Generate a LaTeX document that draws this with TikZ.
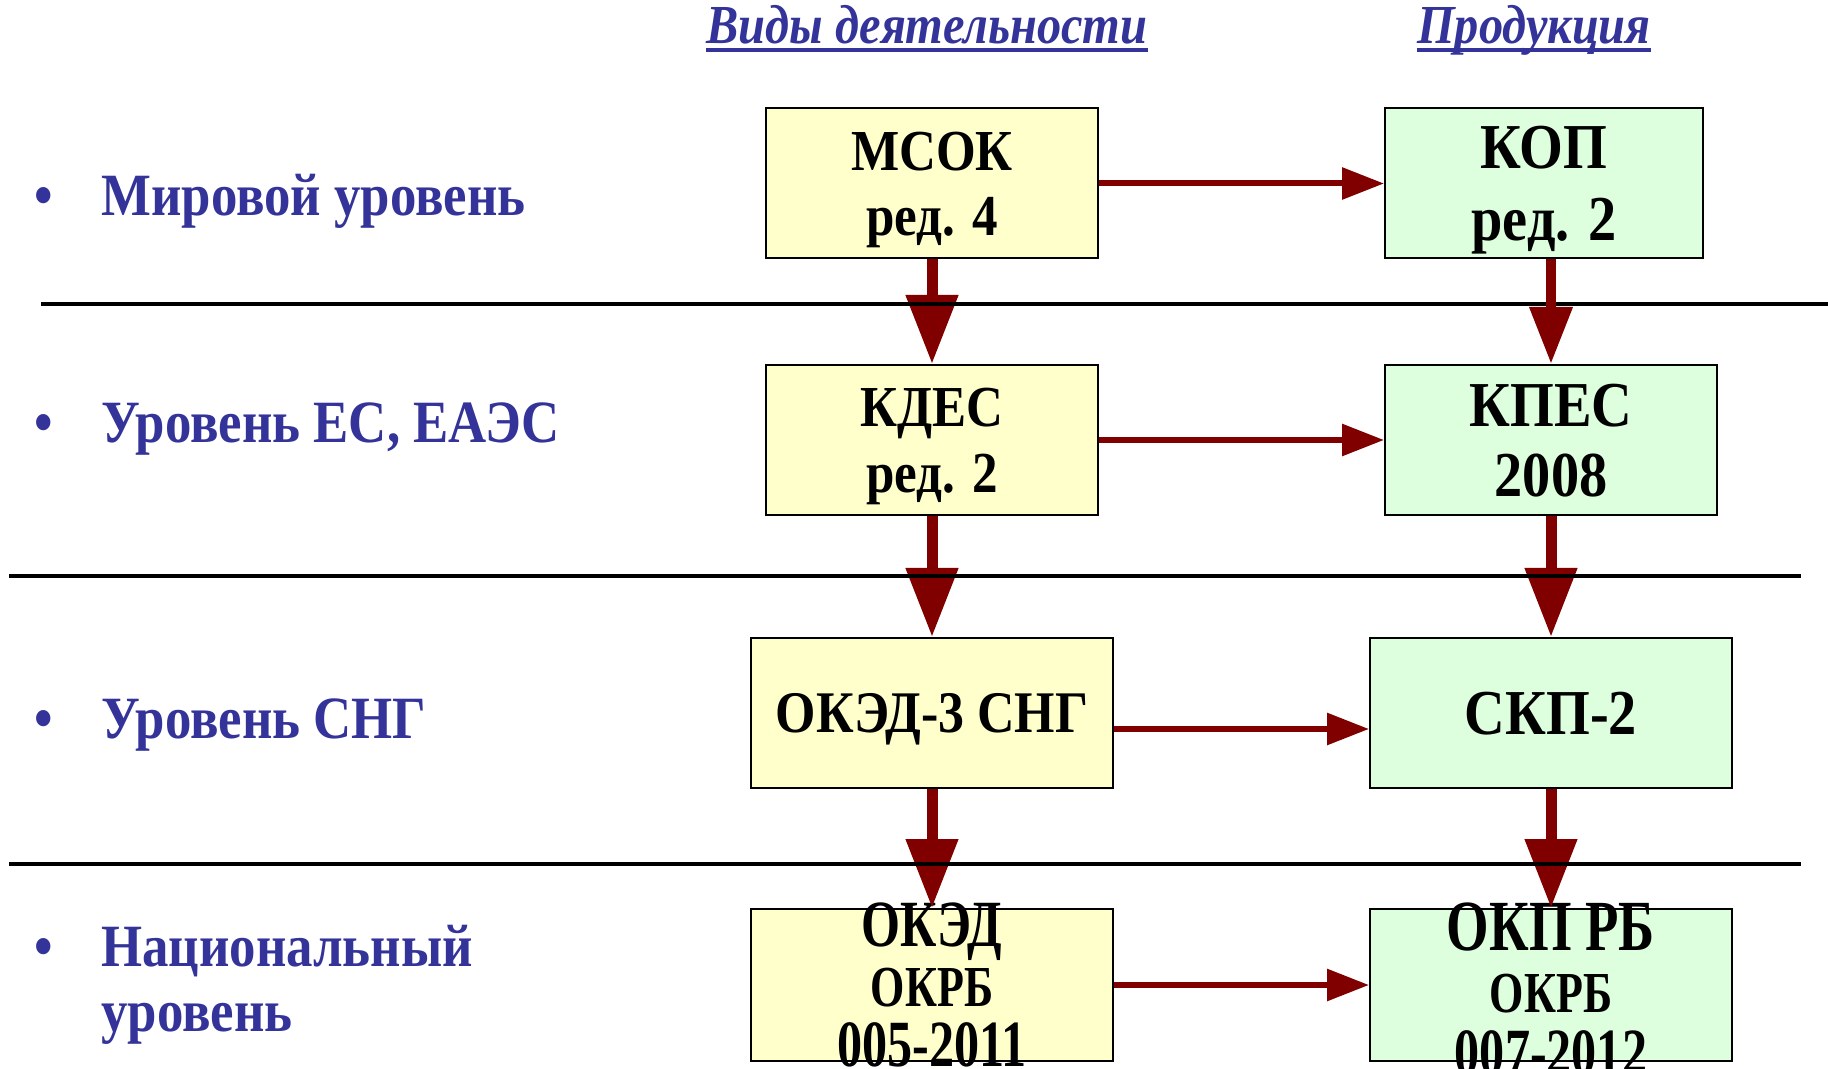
\documentclass[tikz,border=0pt]{standalone}
\usepackage{fontspec}
\setmainfont{Liberation Serif}[FakeStretch=0.88]
\newfontfamily\narrowfont{Liberation Serif}[FakeStretch=0.76]
\usetikzlibrary{arrows.meta}

\definecolor{lvlblue}{HTML}{333399}
\definecolor{arrred}{HTML}{800000}
\definecolor{actfill}{HTML}{FFFFCC}
\definecolor{prodfill}{HTML}{DDFFDD}

\tikzset{
  lvl/.style={anchor=base west, inner sep=0pt, text=lvlblue, font=\fontsize{30}{36}\selectfont\bfseries},
  bul/.style={anchor=base, inner sep=0pt, text=lvlblue, font=\fontsize{30}{36}\selectfont\bfseries},
  hdr/.style={anchor=base, inner sep=0pt, text=lvlblue, font=\fontsize{27.5}{32}\selectfont\bfseries\itshape},
  uline/.style={lvlblue, line width=1.75pt},
  sep/.style={black, line width=2pt},
  cbox/.style={draw=black, line width=1pt, inner sep=0pt, align=center, minimum height=75pt, text depth=0pt},
  actbox/.style={cbox, fill=actfill},
  prodbox/.style={cbox, fill=prodfill},
  boxtext/.style={inner sep=0pt, align=center},
  vflow/.style={arrred, line width=5.5pt, -{Triangle[length=34.5pt, width=25pt]}},
  vflowthin/.style={arrred, line width=5pt, -{Triangle[length=28.5pt, width=20.5pt]}},
  hflow/.style={arrred, line width=3pt, -{Triangle[length=21pt, width=15.5pt]}}
}

\begin{document}
\begin{tikzpicture}[x=0.5pt, y=-0.5pt]
  \useasboundingbox (0,0) rectangle (1828,1069);

  % headers
  \node[hdr] (hdract) at (927,44) {Виды деятельности};
  \node[hdr] (hdrprod) at (1534,44) {Продукция};
  \draw[uline] ([yshift=-3pt]hdract.base west) -- ([yshift=-3pt]hdract.base east);
  \draw[uline] ([yshift=-3pt]hdrprod.base west) -- ([yshift=-3pt]hdrprod.base east);

  % levels
  \node[bul] (bworld) at (44,216) {•};
  \node[lvl] (lvlworld) at (101,216) {Мировой уровень};
  \node[bul] (beu) at (44,443) {•};
  \node[lvl] (lvleu) at (101,443) {Уровень ЕС, ЕАЭС};
  \node[bul] (bcis) at (44,739) {•};
  \node[lvl] (lvlcis) at (101,739) {Уровень СНГ};
  \node[bul] (bnat) at (44,966) {•};
  \node[lvl] (lvlnat) at (101,966) {Национальный};
  \node[lvl] (lvlnatb) at (101,1031) {уровень};

  % classifiers
  \node[actbox, minimum width=166pt, font=\fontsize{29}{32.5}\selectfont\bfseries] (mcok) at (932,183.5) {МСОК\\ред. 4};
  \node[prodbox, minimum width=159pt, font=\fontsize{32}{36}\selectfont\bfseries] (kop) at (1544,183.5) {КОП\\ред. 2};
  \node[actbox, minimum width=166pt, font=\fontsize{29}{33}\selectfont\bfseries] (kdes) at (932,440) {КДЕС\\ред. 2};
  \node[prodbox, minimum width=166pt, font=\fontsize{32}{35}\selectfont\bfseries] (kpes) at (1551,440) {КПЕС\\2008};
  \node[actbox, minimum width=181pt, font=\fontsize{29.5}{33}\selectfont\bfseries] (okedsng) at (932,713) {ОКЭД-3 СНГ};
  \node[prodbox, minimum width=181pt, font=\fontsize{32}{36}\selectfont\bfseries] (skp) at (1551,713) {СКП-2};
  \node[actbox, minimum width=181pt, minimum height=76pt] (oked) at (932,985) {};
  \node[prodbox, minimum width=181pt, minimum height=76pt] (okp) at (1551,985) {};
  \node[boxtext, font=\narrowfont\fontsize{33}{30}\selectfont\bfseries] (okedtxt) at (oked.center)
    {ОКЭД\\{\fontsize{29}{30}\selectfont ОКРБ}\\005-2011};
  \node[boxtext, font=\narrowfont\fontsize{33}{31}\selectfont\bfseries] (okptxt) at ([yshift=-2pt]okp.center)
    {{\fontsize{36}{31}\selectfont ОКП РБ}\\{\fontsize{29}{31}\selectfont ОКРБ}\\007-2012};

  % flows
  \draw[vflow] (mcok) -- (kdes);
  \draw[vflow] (kdes) -- (okedsng);
  \draw[vflow] (okedsng) -- (oked);
  \draw[vflow] (kpes) -- (skp);
  \draw[vflow] (skp) -- (okp);
  \draw[hflow] (mcok) -- (kop);
  \draw[hflow] (kdes) -- (kpes);
  \draw[hflow] ([yshift=-8pt]okedsng.east) -- ([yshift=-8pt]skp.west);
  \draw[hflow] (oked) -- (okp);

  % level lines
  \draw[sep] (41,304) -- (1828,304);
  \draw[sep] (9,576) -- (1801,576);
  \draw[sep] (9,864) -- (1801,864);

  \draw[vflowthin] (kop.south -| kpes.north) -- (kpes.north);
\end{tikzpicture}
\end{document}
